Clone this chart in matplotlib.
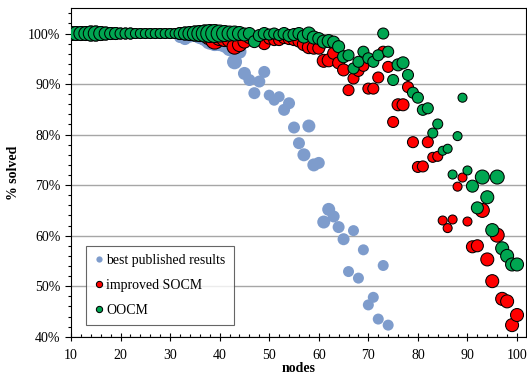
# Bubble chart: % of instances solved vs. number of nodes

import matplotlib
matplotlib.use('Agg')
import matplotlib.pyplot as plt
from matplotlib.ticker import MultipleLocator, PercentFormatter
from matplotlib.lines import Line2D

nodes = list(range(10, 101))

# best published results (10..74 nodes)
best_published = [100] * 22 + [
    99.3, 99.0, 99.6, 99.8, 99.5, 99.2, 98.6, 98.3, 98.2, 97.8,   # 32-41
    97.0, 94.4, 96.4, 92.1, 90.8, 88.2, 90.5, 92.4, 87.8, 86.8,   # 42-51
    87.5, 84.9, 86.2, 81.4, 78.3, 76.0, 81.7, 74.0, 74.4, 62.7,   # 52-61
    65.2, 63.8, 61.7, 59.3, 52.9, 61.0, 51.6, 57.2, 46.3, 47.8,   # 62-71
    43.5, 54.1, 42.3]                                             # 72-74

# improved SOCM
improved_socm = [100] * 28 + [
    99.5, 98.7, 99.3, 99.0, 98.8, 97.4, 97.8, 98.4, 99.2, 98.6,   # 38-47
    99.0, 98.0, 99.0, 98.7, 98.7, 99.2, 99.0, 98.8, 98.5, 97.9,   # 48-57
    97.3, 97.2, 97.1, 94.6, 94.7, 96.1, 94.2, 92.8, 88.8, 91.1,   # 58-67
    92.6, 93.6, 89.1, 89.1, 91.3, 96.4, 93.4, 82.5, 85.9, 85.9,   # 68-77
    89.4, 78.5, 73.6, 73.7, 78.5, 75.5, 75.7, 63.0, 61.5, 63.2,   # 78-87
    69.7, 71.5, 62.8, 57.8, 58.0, 65.0, 55.3, 51.0, 60.1, 47.5,   # 88-97
    47.0, 42.3, 44.3]                                             # 98-100

# OOCM
oocm = [100] * 35 + [
    99.8, 100, 98.4, 99.6, 100, 99.8, 100, 99.7, 100, 99.6,       # 45-54
    99.8, 100, 99.4, 100, 99.2, 99.0, 98.4, 98.5, 98.3, 97.4,     # 55-64
    95.4, 95.7, 93.1, 94.4, 96.4, 95.1, 94.4, 95.7, 100, 96.4,    # 65-74
    90.8, 93.8, 94.2, 91.8, 88.3, 87.3, 84.9, 85.2, 80.3, 82.1,   # 75-84
    76.8, 77.2, 72.1, 79.7, 87.3, 72.9, 69.8, 65.5, 71.6, 67.6,   # 85-94
    61.1, 71.6, 57.5, 56.0, 54.3, 54.3]                           # 95-100

# bubble diameter (px) per node count
bubble_px = [
    14, 14, 14, 14, 15, 15, 14, 13, 12, 12,   # 10-19
    11, 11, 11, 10, 10, 10, 10, 10, 10, 10,   # 20-29
    10, 10, 12, 13, 14, 15, 16, 17, 18, 18,   # 30-39
    17, 16, 15, 15, 14, 13, 12, 12, 12, 12,   # 40-49
    11, 11, 11, 12, 12, 12, 12, 13, 13, 13,   # 50-59
    12, 13, 13, 12, 12, 12, 11, 11, 11, 11,   # 60-69
    11, 11, 11, 11, 11, 11, 12, 12, 11, 11,   # 70-79
    11, 11, 11, 10, 10, 9, 9, 9, 9, 9,        # 80-89
    9, 12, 12, 14, 13, 13, 14, 13, 13, 13,    # 90-99
    13]                                       # 100

blue = '#7e9ccc'
red = '#ff0000'
green = '#00a651'

sizes = [(d * 0.72) ** 2 for d in bubble_px]

plt.rcParams['font.family'] = ['Liberation Serif', 'DejaVu Serif']

fig = plt.figure(figsize=(5.27, 3.75), dpi=100)
ax = fig.add_axes([0.1347, 0.102, 0.8633, 0.876])

nb = len(best_published)
ax.scatter(nodes[:nb], best_published, s=sizes[:nb], color=blue,
           linewidths=0, zorder=3)
ax.scatter(nodes, improved_socm, s=sizes, color=red,
           edgecolors='black', linewidths=0.75, zorder=4)
ax.scatter(nodes, oocm, s=sizes, color=green,
           edgecolors='black', linewidths=0.75, zorder=5)

ax.set_xlim(10, 101.8)
ax.set_ylim(40, 105)
ax.xaxis.set_major_locator(MultipleLocator(10))
ax.xaxis.set_minor_locator(MultipleLocator(2))
ax.yaxis.set_major_locator(MultipleLocator(10))
ax.yaxis.set_minor_locator(MultipleLocator(2))
ax.yaxis.set_major_formatter(PercentFormatter(xmax=100, decimals=0))

ax.grid(axis='y', which='major', color='#a6a6a6', linewidth=1.0, zorder=0)
ax.set_axisbelow(True)

for sp in ax.spines.values():
    sp.set_color('black')
    sp.set_linewidth(0.8)

ax.tick_params(axis='y', which='major', direction='out', length=4, width=0.8, labelsize=10)
ax.tick_params(axis='y', which='minor', direction='out', length=2.5, width=0.8)
ax.tick_params(axis='x', which='major', direction='inout', length=6, width=0.8,
               labelsize=10, pad=6)
ax.tick_params(axis='x', which='minor', direction='in', length=2.5, width=0.8)

ax.set_xlabel('nodes', fontweight='bold', fontsize=10, labelpad=0)
ax.set_ylabel('% solved', fontweight='bold', fontsize=10, labelpad=6)

handles = [
    Line2D([], [], ls='none', marker='o', markersize=4.5, markerfacecolor=blue,
           markeredgewidth=0, label='best published results'),
    Line2D([], [], ls='none', marker='o', markersize=4.5, markerfacecolor=red,
           markeredgecolor='black', markeredgewidth=0.75, label='improved SOCM'),
    Line2D([], [], ls='none', marker='o', markersize=4.5, markerfacecolor=green,
           markeredgecolor='black', markeredgewidth=0.75, label='OOCM'),
]
leg = ax.legend(handles=handles, loc='lower left', bbox_to_anchor=(0.033, 0.036),
                borderaxespad=0, fontsize=10, frameon=True, fancybox=False,
                labelspacing=0.85, handlelength=0.6, handletextpad=0.25,
                borderpad=0.6)
leg.get_frame().set_edgecolor('#404040')
leg.get_frame().set_linewidth(0.8)
leg.set_zorder(10)

plt.savefig('out.png', dpi=100)
